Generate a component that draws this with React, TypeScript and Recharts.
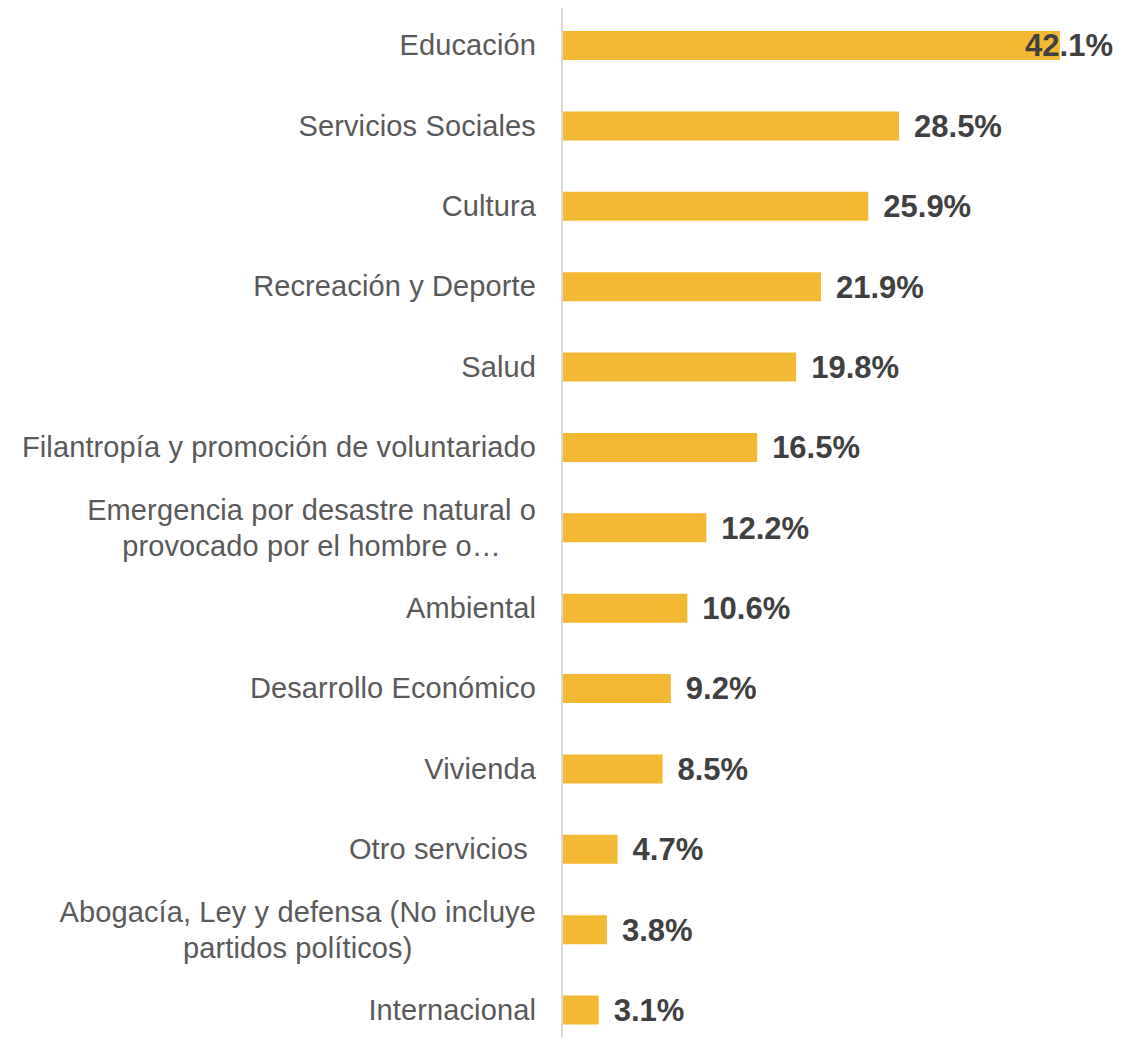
import React from "react";
import { BarChart, Bar, XAxis, YAxis, LabelList } from "recharts";

const categories = [
  "Educación",
  "Servicios Sociales",
  "Cultura",
  "Recreación y Deporte",
  "Salud",
  "Filantropía y promoción de voluntariado",
  "Emergencia por desastre natural o\nprovocado por el hombre o…",
  "Ambiental",
  "Desarrollo Económico",
  "Vivienda",
  "Otro servicios ",
  "Abogacía, Ley y defensa (No incluye\npartidos políticos)",
  "Internacional",
];

const shares = [42.1, 28.5, 25.9, 21.9, 19.8, 16.5, 12.2, 10.6, 9.2, 8.5, 4.7, 3.8, 3.1];

const data = categories.map((name, i) => ({ name, value: shares[i] }));

const FONT = "'Liberation Sans', Arial, sans-serif";
const CAT_SIZE = 29;
const CAT_SPACING = 0.12;
const LABEL_SIZE = 31;
const CHART_W = 1127;
const RIGHT_LIMIT = 1113;

let ctx: CanvasRenderingContext2D | null = null;
function measure(text: string, font: string, spacing = 0) {
  if (!ctx) ctx = document.createElement("canvas").getContext("2d");
  if (!ctx) return text.length * 14;
  ctx.font = font;
  return ctx.measureText(text).width + spacing * text.length;
}

function CategoryTick({ x, y, payload }: any) {
  const lines = String(payload.value).split("\n");
  const right = x - 26;
  const common = {
    fill: "#595959",
    fontSize: CAT_SIZE,
    fontFamily: FONT,
    letterSpacing: CAT_SPACING,
    style: { whiteSpace: "pre" as const },
  };
  if (lines.length === 1) {
    return (
      <text x={right} y={y} dy="0.35em" textAnchor="end" {...common}>
        {lines[0]}
      </text>
    );
  }
  const widest = Math.max(...lines.map((l) => measure(l, `${CAT_SIZE}px ${FONT}`, CAT_SPACING)));
  const cx = right - widest / 2;
  const lh = 36;
  const startY = y - ((lines.length - 1) * lh) / 2;
  return (
    <text textAnchor="middle" {...common}>
      {lines.map((l, i) => (
        <tspan key={i} x={cx} y={startY + i * lh} dy="0.35em">
          {l}
        </tspan>
      ))}
    </text>
  );
}

function ValueLabel({ x, y, width, height, value }: any) {
  const text = `${Number(value).toFixed(1)}%`;
  const w = measure(text, `bold ${LABEL_SIZE}px ${FONT}`);
  const tx = Math.min(x + width + 15, RIGHT_LIMIT - w);
  return (
    <text x={tx} y={y + height / 2} dy="0.35em" fill="#404040" fontSize={LABEL_SIZE} fontWeight="bold" fontFamily={FONT}>
      {text}
    </text>
  );
}

export default function App() {
  return (
    <div style={{ margin: -8, width: CHART_W, height: 1045, overflow: "hidden", background: "#fff" }}>
      <BarChart
        width={CHART_W}
        height={1050}
        data={data}
        layout="vertical"
        margin={{ top: 5, right: 21, bottom: 0, left: 0 }}
        barCategoryGap={0}
      >
        <XAxis type="number" domain={[0, 46]} hide />
        <YAxis
          type="category"
          dataKey="name"
          width={562}
          axisLine={{ stroke: "#D9D9D9", strokeWidth: 2 }}
          tickLine={false}
          tickSize={0}
          tickMargin={0}
          interval={0}
          tick={<CategoryTick />}
        />
        <Bar dataKey="value" fill="#F4B933" barSize={29} isAnimationActive={false}>
          <LabelList dataKey="value" content={<ValueLabel />} />
        </Bar>
      </BarChart>
    </div>
  );
}
